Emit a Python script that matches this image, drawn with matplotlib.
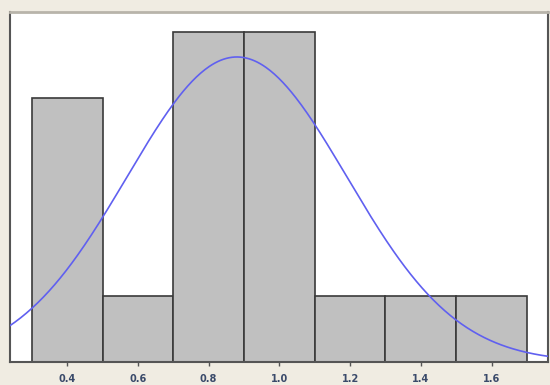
import matplotlib
matplotlib.use('Agg')
import matplotlib.pyplot as plt
import numpy as np

# histogram bins and counts
bin_edges = [0.3, 0.5, 0.7, 0.9, 1.1, 1.3, 1.5, 1.7]
counts = [4, 1, 5, 5, 1, 1, 1]
tick_vals = [0.4, 0.6, 0.8, 1.0, 1.2, 1.4, 1.6]
tick_labels = ['0.4', '0.6', '0.8', '1.0', '1.2', '1.4', '1.6']
# fitted normal curve parameters
fit_mean = 0.88
fit_sd = 0.311

fig = plt.figure(figsize=(5.5, 3.85), dpi=100, facecolor='#f0ece2')
ax = fig.add_axes([0.018, 0.06, 0.978, 0.909])
ax.set_facecolor('white')

widths = np.diff(bin_edges)
ax.bar(bin_edges[:-1], counts, width=widths, align='edge',
       color='#c0c0c0', edgecolor='#3a3a3a', linewidth=1.2, zorder=2)

n = sum(counts)
bw = widths[0]
xs = np.linspace(0.2, 1.8, 400)
ys = n * bw / (fit_sd * np.sqrt(2 * np.pi)) * np.exp(-0.5 * ((xs - fit_mean) / fit_sd) ** 2)
ax.plot(xs, ys, color='#6060f0', linewidth=1.2, zorder=3)

ax.set_xlim(0.238, 1.759)
ax.set_ylim(0, 5.3)
ax.set_yticks([])
ax.set_xticks(tick_vals)
ax.set_xticklabels(tick_labels, fontsize=7, color='#3a4a6a', fontweight='bold')
ax.tick_params(axis='x', length=3, width=1, color='#555555', pad=6)

for side in ['left', 'bottom', 'right']:
    ax.spines[side].set_color('#555555')
    ax.spines[side].set_linewidth(1.5)
ax.spines['top'].set_color('#b8b4aa')
ax.spines['top'].set_linewidth(2)

fig.savefig('out.png', dpi=100, facecolor=fig.get_facecolor())
